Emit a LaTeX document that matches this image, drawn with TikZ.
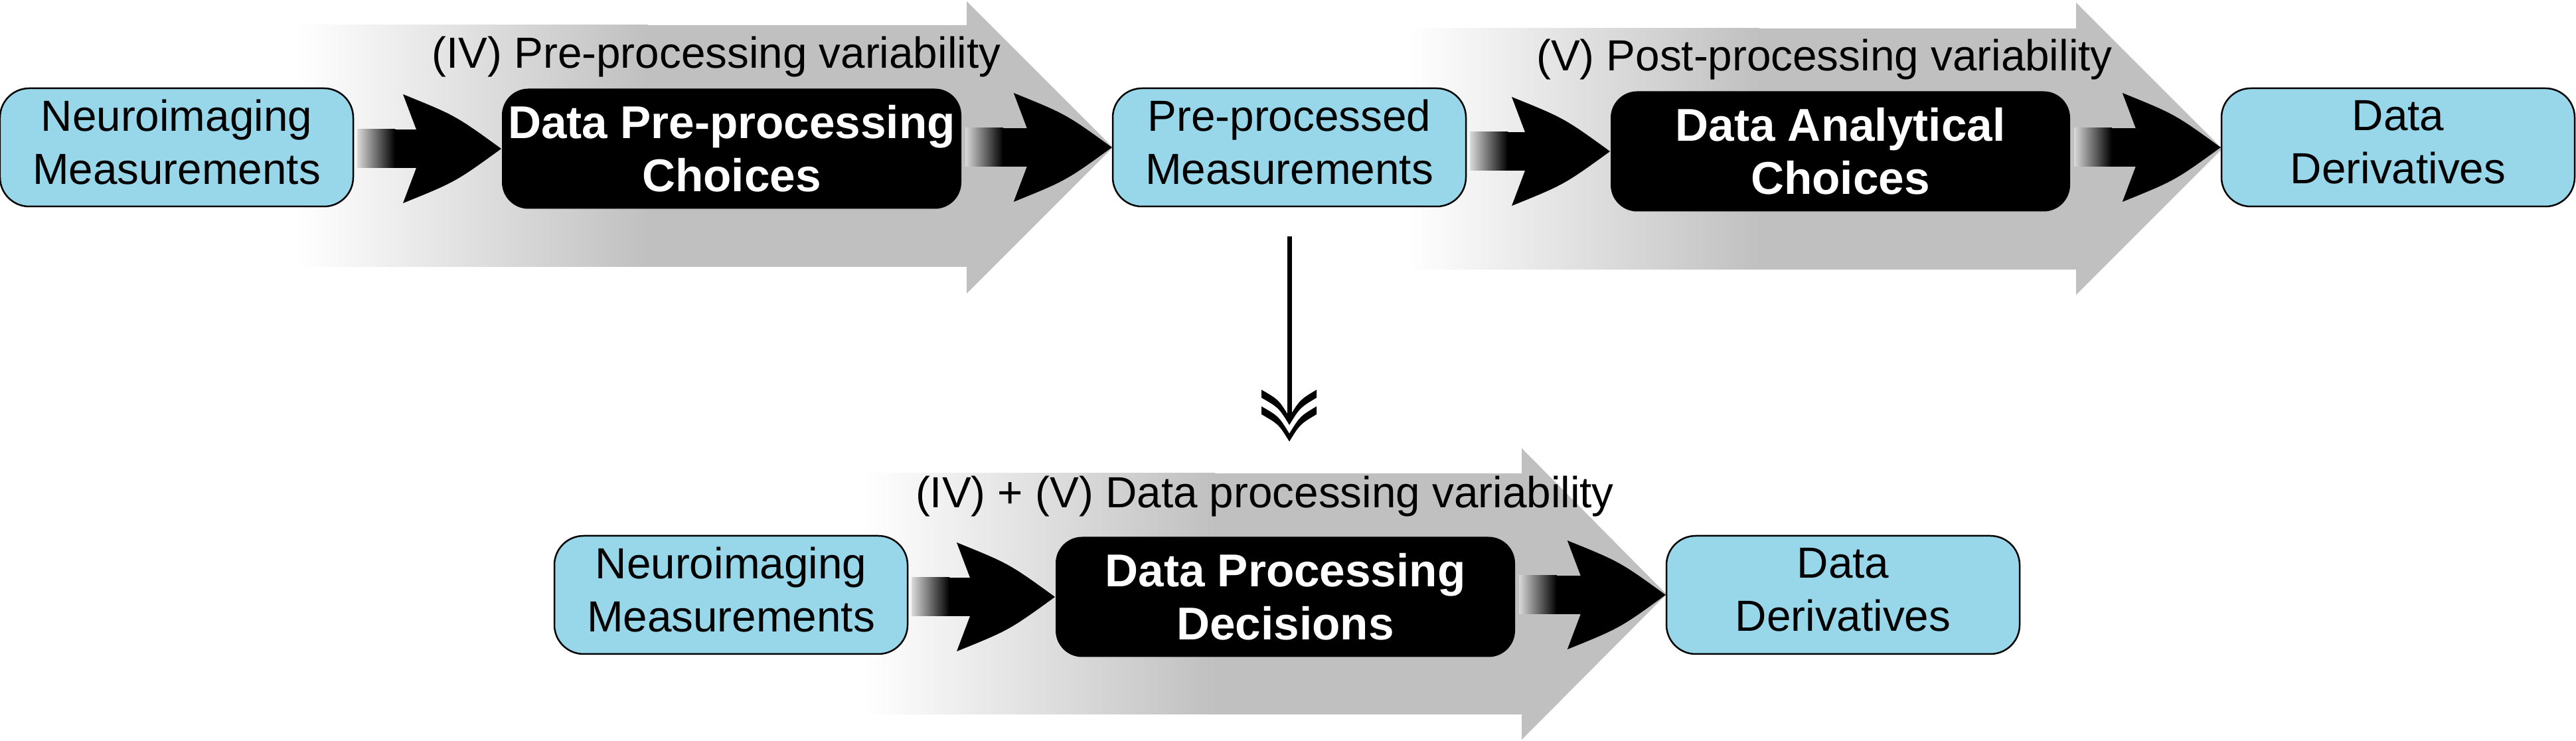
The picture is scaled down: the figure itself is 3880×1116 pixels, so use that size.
\documentclass[tikz,border=0pt]{standalone}
\usepackage{fontspec}
\setmainfont{Liberation Sans}
\usetikzlibrary{calc}
\definecolor{boxblue}{RGB}{151,215,233}
\definecolor{arrgray}{RGB}{192,192,192}
\newcommand\dstrut{\rule[-3.2pt]{0pt}{3.2pt}}
\newcommand\fatarrow[2]{%
  \coordinate (fas) at (#1.east |- #2.west);
  \shade[left color=black!15,right color=black] ($(fas)+(5,-29)$) rectangle ($(fas)+(62,29)$);
  \fill[black] ($(fas)+(61,-29)$) rectangle ($(#2.west)+(-126,29)$);
  \fill[black] ($(#2.west)+(-128,-29)$) -- ($(#2.west)+(-148,-82)$)
     .. controls ($(#2.west)+(-69,-50)$) .. (#2.west)
     .. controls ($(#2.west)+(-69,50)$) .. ($(#2.west)+(-148,82)$)
     -- ($(#2.west)+(-128,29)$) -- cycle;
}
\tikzset{
  bluebox/.style={draw=black, line width=0.5pt, fill=boxblue, rounded corners=8.8pt,
    minimum width=106.4pt, minimum height=35.6pt, inner sep=0pt, align=center,
    font=\fontsize{13.12}{16}\selectfont},
  blackbox/.style={fill=black, text=white, rounded corners=8pt,
    minimum width=138.4pt, minimum height=36.2pt, inner sep=0pt, align=center,
    font=\fontsize{13.86}{16}\selectfont\bfseries},
  varlabel/.style={anchor=base, inner sep=0pt, font=\fontsize{13.12}{16}\selectfont},
  bigarrow/.style={fill=arrgray},
}
\begin{document}
\begin{tikzpicture}[x=0.2pt, y=-0.2pt]
\useasboundingbox (0,0) rectangle (3880,1116);

% big gray arrows
\fill[bigarrow] (446,38) -- (1456,38) -- (1456,2) -- (1676,222) -- (1456,442) -- (1456,402) -- (446,402) -- cycle;
\shade[left color=white,right color=arrgray] (446,38) rectangle (976,402);
\fill[bigarrow] (2120,43) -- (3127,43) -- (3127,4) -- (3347,224) -- (3127,444) -- (3127,406) -- (2120,406) -- cycle;
\shade[left color=white,right color=arrgray] (2120,43) rectangle (2650,406);
\fill[bigarrow] (1300,713) -- (2292,713) -- (2292,675) -- (2510,895) -- (2292,1114) -- (2292,1076) -- (1300,1076) -- cycle;
\shade[left color=white,right color=arrgray] (1300,713) rectangle (1830,1076);

% labels
\node[varlabel] (labA) at (1079,103) {(IV) Pre-processing variability};
\node[varlabel] (labB) at (2748,107) {(V) Post-processing variability};
\node[varlabel] (labC) at (1905,765) {(IV) + (V) Data processing variability};

% top row
\node[bluebox] (neuroA) at (266,222) {Neuroimaging\\Measurements\dstrut};
\node[blackbox] (prepchoice) at (1102,224) {Data Pre-processing\\Choices};
\node[bluebox] (prep) at (1942,222) {Pre-processed\\Measurements\dstrut};
\node[blackbox] (anchoice) at (2772,228) {Data Analytical\\Choices};
\node[bluebox] (derivA) at (3612,222) {Data\\Derivatives\dstrut};

% bottom row
\node[bluebox] (neuroB) at (1101,896) {Neuroimaging\\Measurements\dstrut};
\node[blackbox] (decide) at (1936,899) {Data Processing\\Decisions};
\node[bluebox] (derivB) at (2776,896) {Data\\Derivatives\dstrut};

% black connectors
\fatarrow{neuroA}{prepchoice}
\fatarrow{prepchoice}{prep}
\fatarrow{prep}{anchoice}
\fatarrow{anchoice}{derivA}
\fatarrow{neuroB}{decide}
\fatarrow{decide}{derivB}

% downward double arrow
\coordinate (dend) at (1942,628);
\draw[line width=1.4pt, shorten <=8.8pt] (prep.south) -- (dend);
\begin{scope}[shift={(dend)}]
  \foreach \dy in {0,25}{
    \fill[black] (-42,-41+\dy) .. controls (-16,-26+\dy) .. (0,\dy)
       .. controls (16,-26+\dy) .. (41,-41+\dy) -- (41,-29+\dy)
       .. controls (16,-14+\dy) .. (0,12+\dy)
       .. controls (-16,-14+\dy) .. (-42,-29+\dy) -- cycle;
  }
\end{scope}
\end{tikzpicture}
\end{document}
